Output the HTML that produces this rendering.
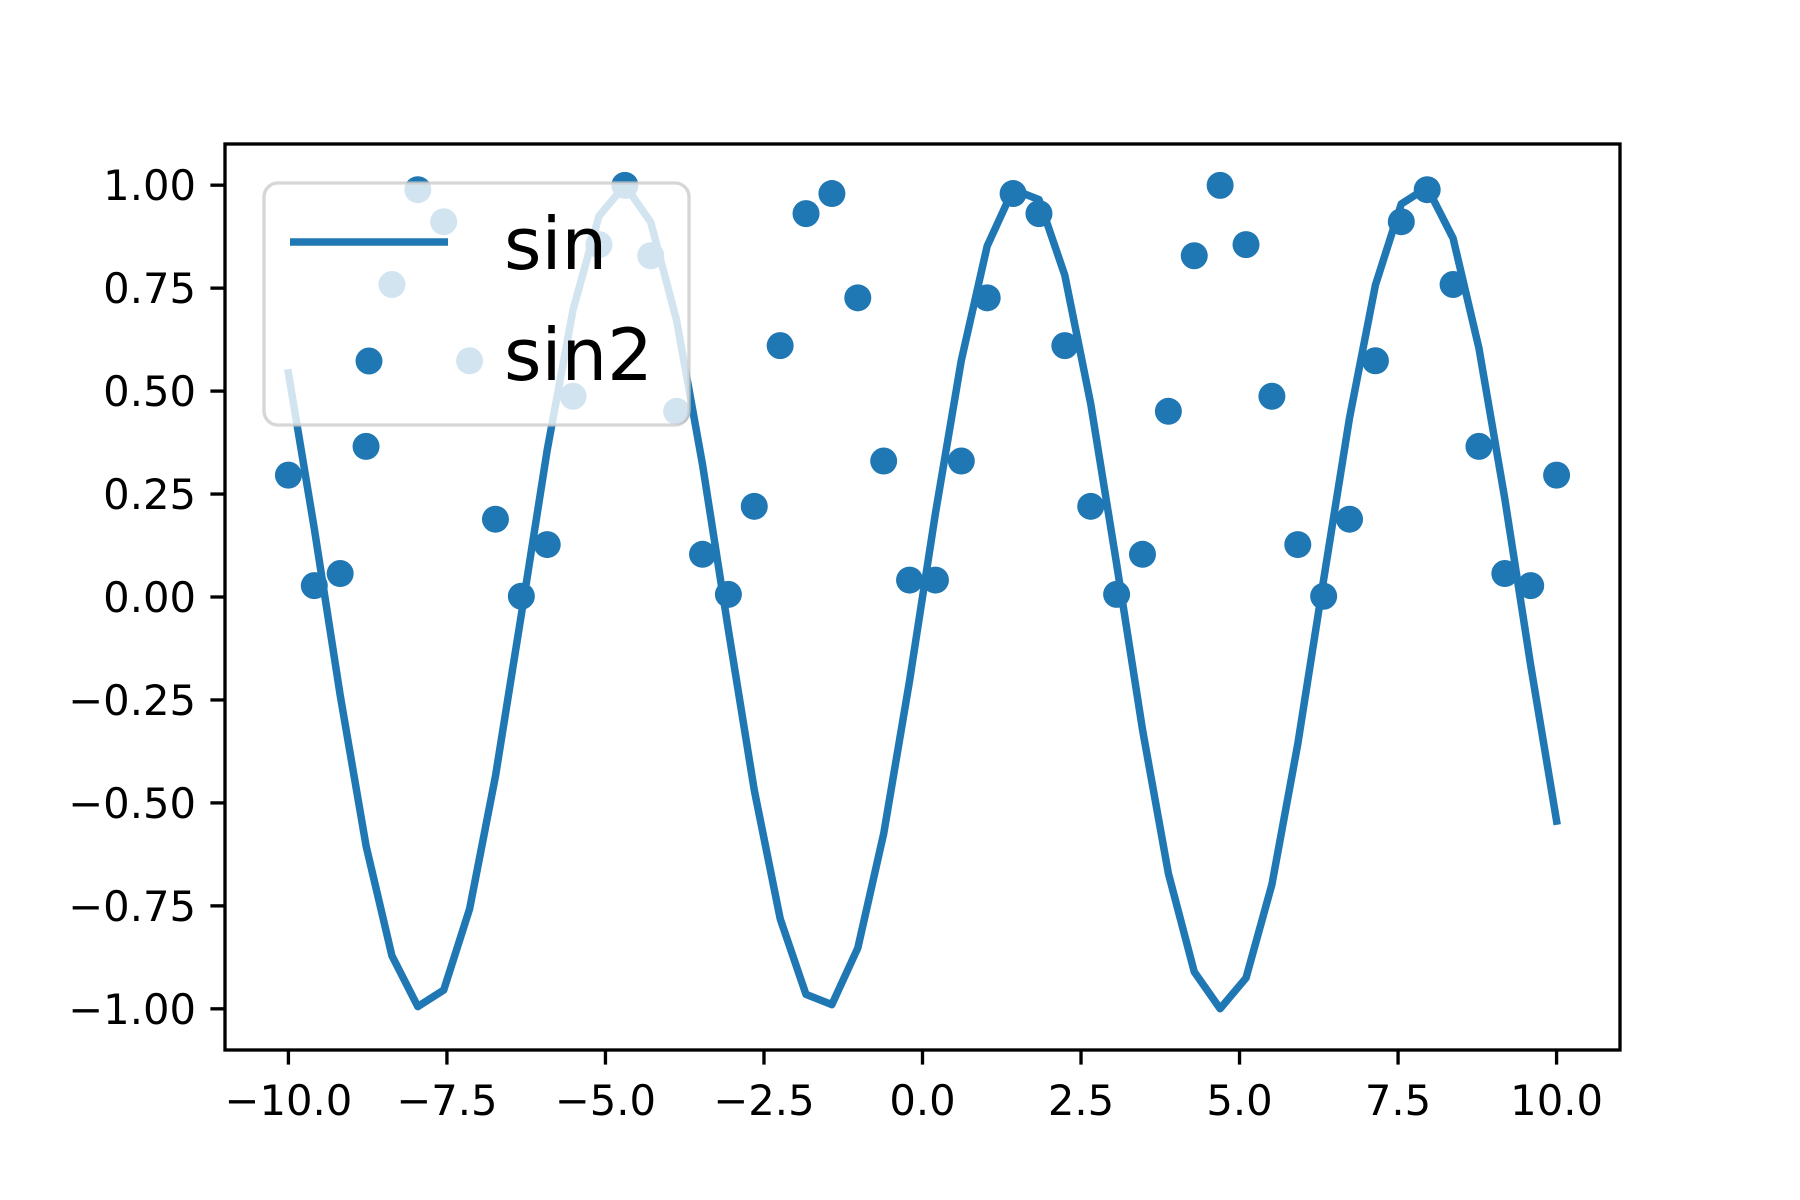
<!DOCTYPE html>
<html><head><meta charset="utf-8"><style>
html,body{margin:0;padding:0;background:#fff}
svg{display:block}
text{font-family:"DejaVu Sans","Liberation Sans",sans-serif;fill:#000}
</style></head><body>
<svg id="chart" width="1800" height="1200" viewBox="0 0 1800 1200" xmlns="http://www.w3.org/2000/svg">
<rect width="1800" height="1200" fill="#fff"/>
<g id="plot"></g>
<g id="axes"></g>
<g id="legend"></g>
</svg>
<script>
const xValues = [-10,-9.5918,-9.1837,-8.7755,-8.3673,-7.9592,-7.5510,-7.1429,-6.7347,-6.3265,-5.9184,-5.5102,-5.1020,-4.6939,-4.2857,-3.8776,-3.4694,-3.0612,-2.6531,-2.2449,-1.8367,-1.4286,-1.0204,-0.6122,-0.2041,
0.2041,0.6122,1.0204,1.4286,1.8367,2.2449,2.6531,3.0612,3.4694,3.8776,4.2857,4.6939,5.1020,5.5102,5.9184,6.3265,6.7347,7.1429,7.5510,7.9592,8.3673,8.7755,9.1837,9.5918,10];
const sinValues = [0.5440,0.1662,-0.2388,-0.6047,-0.8711,-0.9945,-0.9546,-0.7574,-0.4346,-0.0433,0.3568,0.6982,0.9251,0.9998,0.9103,0.6715,0.3220,-0.0803,-0.4693,-0.7813,-0.9649,-0.9898,-0.8524,-0.5746,-0.2027,
0.2027,0.5746,0.8524,0.9898,0.9649,0.7813,0.4693,0.0803,-0.3220,-0.6715,-0.9103,-0.9998,-0.9251,-0.6982,-0.3568,0.0433,0.4346,0.7574,0.9546,0.9945,0.8711,0.6047,0.2388,-0.1662,-0.5440];
const sin2Values = [0.2959,0.0276,0.0570,0.3657,0.7588,0.9890,0.9113,0.5736,0.1889,0.0019,0.1273,0.4875,0.8557,0.9996,0.8287,0.4509,0.1037,0.0064,0.2202,0.6104,0.9310,0.9797,0.7265,0.3302,0.0411,
0.0411,0.3302,0.7265,0.9797,0.9310,0.6104,0.2202,0.0064,0.1037,0.4509,0.8287,0.9996,0.8557,0.4875,0.1273,0.0019,0.1889,0.5736,0.9113,0.9890,0.7588,0.3657,0.0570,0.0276,0.2959];
const xTicks = [-10,-7.5,-5,-2.5,0,2.5,5,7.5,10];
const xTickLabels = ["−10.0","−7.5","−5.0","−2.5","0.0","2.5","5.0","7.5","10.0"];
const yTicks = [1,0.75,0.5,0.25,0,-0.25,-0.5,-0.75,-1];
const yTickLabels = ["1.00","0.75","0.50","0.25","0.00","−0.25","−0.50","−0.75","−1.00"];
const seriesNames = ["sin","sin2"];

const NS="http://www.w3.org/2000/svg";
const L=225,R=1620,T=144,B=1050;
const xmin=-11,xmax=11,ymin=-1.1,ymax=1.1;
const C="#1f77b4";
function sx(v){return L+(v-xmin)/(xmax-xmin)*(R-L);}
function sy(v){return B-(v-ymin)/(ymax-ymin)*(B-T);}
function mk(tag,attrs,parent){const e=document.createElementNS(NS,tag);for(const k in attrs)e.setAttribute(k,attrs[k]);parent.appendChild(e);return e;}

const plot=document.getElementById('plot');
const line=mk('polyline',{points:xValues.map((x,i)=>sx(x).toFixed(1)+','+sy(sinValues[i]).toFixed(1)).join(' '),fill:'none',stroke:C,'stroke-width':7.5,'stroke-linejoin':'round','stroke-linecap':'square'},plot);


xValues.forEach((x,i)=>{
  const c=mk('circle',{cx:sx(x),cy:sy(sin2Values[i]),r:13.5,fill:C},plot);
  
  
});

const axes=document.getElementById('axes');
const frame=mk('rect',{x:L,y:T,width:R-L,height:B-T,fill:'none',stroke:'#000','stroke-width':3.33},axes);


xTicks.forEach((v,i)=>{
  const X=sx(v);
  const t=mk('line',{x1:X,x2:X,y1:B,y2:B+14.6,stroke:'#000','stroke-width':3.33},axes);
  
  
  const tx=mk('text',{x:X,y:B+65,'text-anchor':'middle','font-size':41.7},axes);
  tx.textContent=xTickLabels[i];
  
  
});
yTicks.forEach((v,i)=>{
  const Y=sy(v);
  const t=mk('line',{x1:L-14.6,x2:L,y1:Y,y2:Y,stroke:'#000','stroke-width':3.33},axes);
  
  
  const tx=mk('text',{x:L-29,y:Y+15,'text-anchor':'end','font-size':41.7},axes);
  tx.textContent=yTickLabels[i];
  
  
});

const lg=document.getElementById('legend');
const box=mk('rect',{x:264,y:183,width:425,height:242,rx:14,ry:14,fill:'#fff','fill-opacity':0.8,stroke:'#cccccc','stroke-opacity':0.8,'stroke-width':3.33},lg);


const lh=mk('line',{x1:290,x2:448,y1:242,y2:242,stroke:C,'stroke-width':7.5},lg);


const mh=mk('circle',{cx:369,cy:361,r:13.5,fill:C},lg);


const t1=mk('text',{x:504,y:269,'font-size':72},lg);
t1.textContent=seriesNames[0];


const t2=mk('text',{x:504,y:380,'font-size':72},lg);
t2.textContent=seriesNames[1];


</script>
</body></html>
